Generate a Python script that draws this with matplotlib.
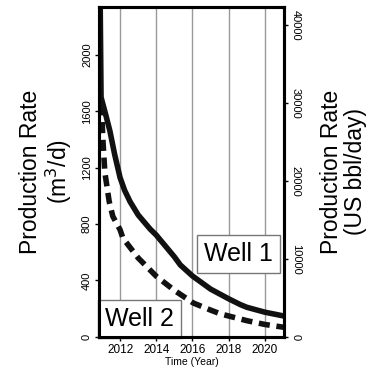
import matplotlib.pyplot as plt

plt.rcParams['font.family'] = ['Liberation Sans', 'DejaVu Sans']

# Data
years_w1 = [2010.9, 2010.95, 2011.2, 2011.44, 2011.7, 2012.0, 2012.25, 2012.55, 2013.0, 2013.66,
            2014, 2015, 2015.33, 2016, 2017, 2018, 2018.66, 2019, 2020, 2021.05]
well1 = [2400, 1700, 1580, 1460, 1295, 1130, 1040, 960, 865, 765,
         722, 568, 510, 432, 339, 270, 228, 210, 175, 148]

years_w2 = [2010.97, 2011.05, 2011.16, 2011.4, 2011.6, 2012.0, 2012.16, 2013, 2014,
            2015, 2016.05, 2017, 2017.55, 2018, 2019, 2020, 2021.05]
well2 = [1650, 1400, 1166, 960, 855, 760, 700, 560, 430,
         330, 240, 190, 163, 148, 115, 88, 68]

xticks = [2012, 2014, 2016, 2018, 2020]
yticks_left = [0, 400, 800, 1200, 1600, 2000]
yticks_right = [0, 10000, 20000, 30000, 40000]

fig = plt.figure(figsize=(3.76, 3.71), dpi=100)
ax = fig.add_axes([0.263, 0.092, 0.492, 0.889])

ax.plot(years_w1, well1, color='#111111', lw=4, solid_capstyle='butt')
ax.plot(years_w2, well2, color='#111111', lw=4, dashes=(2.0, 1.2))

ax.set_xlim(2010.83, 2021.05)
ax.set_ylim(0, 2340)
ax.set_xticks(xticks)
ax.set_yticks(yticks_left)
ax.grid(axis='x', color='#999999', lw=1)
ax.tick_params(axis='x', labelsize=8.5, length=3, width=1, pad=2)
ax.tick_params(axis='y', labelsize=8, length=3, width=1, pad=2)
for lab in ax.get_yticklabels():
    lab.set_rotation(90)
    lab.set_va('center')
for sp in ax.spines.values():
    sp.set_linewidth(2.2)

ax.set_xlabel('Time (Year)', fontsize=7.5, labelpad=1)
ax.set_ylabel('Production Rate\n(m$^3$/d)', fontsize=16.5, labelpad=6, linespacing=1.05)

ax2 = ax.twinx()
ax2.set_ylim(0, 42300)
ax2.set_yticks(yticks_right)
ax2.tick_params(axis='y', labelsize=8, length=3, width=1, pad=2)
for lab in ax2.get_yticklabels():
    lab.set_rotation(-90)
    lab.set_va('center')
ax2.set_ylabel('Production Rate\n(US bbl/day)', fontsize=16.5, rotation=90, labelpad=14,
               linespacing=1.05)
for sp in ax2.spines.values():
    sp.set_linewidth(2.2)

box = dict(boxstyle='square,pad=0.28', fc='white', ec='#777777', lw=1)
ax.text(0.94, 0.25, 'Well 1', transform=ax.transAxes, fontsize=18,
        ha='right', va='center', bbox=box, zorder=5)
ax.text(0.035, 0.055, 'Well 2', transform=ax.transAxes, fontsize=18,
        ha='left', va='center', bbox=box, zorder=5)

fig.savefig('out.png', dpi=100)
